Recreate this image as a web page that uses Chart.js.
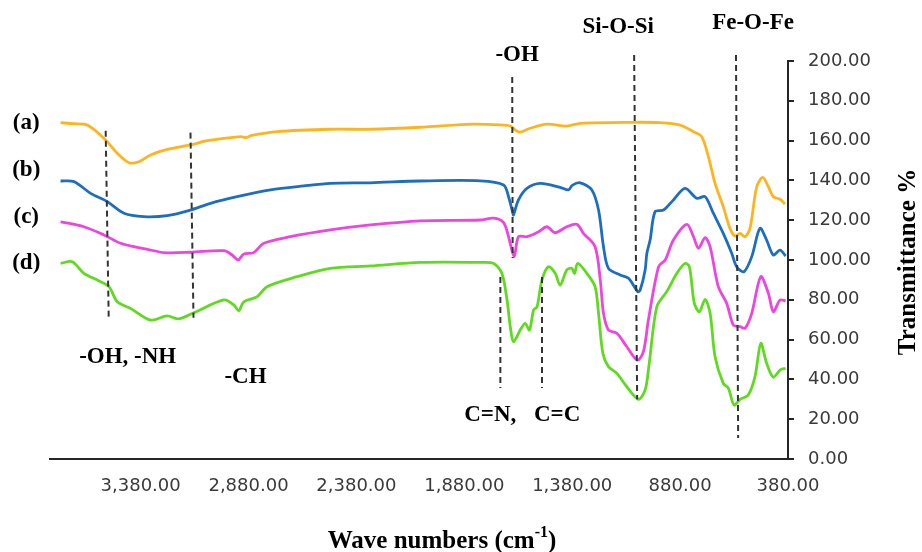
<!DOCTYPE html>
<html lang="en">
<head>
<meta charset="UTF-8">
<title>FTIR spectra</title>
<style>
  body { margin: 0; background: #fff; }
  #ftir { display: block; }
</style>
<script src="https://cdn.jsdelivr.net/npm/chart.js"></script>
</head>
<body>
<canvas id="ftir" width="922" height="552"></canvas>
<script>
// spectra: wave number (cm-1) and transmittance (%)
const aWave = [3751, 3690, 3627, 3542, 3488, 3434, 3388, 3334, 3257, 3149, 3071, 2917, 2890, 2870, 2747, 2500, 2315, 2084, 1838, 1700, 1667, 1640, 1621, 1575, 1497, 1405, 1343, 1098, 973, 880, 818, 780, 749, 718, 680, 649, 625, 602, 579, 556, 525, 497, 471, 448, 417, 394];
const aT    = [169.0, 168.5, 167.8, 160.3, 153.6, 148.9, 149.4, 152.8, 155.6, 157.8, 160.0, 162.0, 161.5, 162.5, 164.5, 165.7, 165.7, 166.7, 168.3, 167.8, 167.3, 165.0, 164.2, 166.2, 168.3, 167.3, 168.7, 169.2, 169.0, 167.8, 164.5, 162.0, 151.9, 138.5, 126.8, 115.9, 112.0, 113.4, 111.7, 115.9, 136.8, 141.5, 136.8, 131.8, 130.5, 128.1];

const bWave = [3751, 3689, 3612, 3534, 3457, 3365, 3257, 3149, 3056, 2933, 2778, 2624, 2501, 2315, 2084, 1806, 1698, 1675, 1655, 1652, 1629, 1590, 1528, 1436, 1397, 1380, 1343, 1289, 1258, 1235, 1212, 1158, 1119, 1076, 1065, 1042, 1034, 1019, 996, 957, 911, 857, 803, 764, 726, 680, 641, 618, 584, 548, 510, 479, 448, 417, 391];
const bT    = [139.7, 139.4, 133.5, 129.3, 123.5, 121.8, 122.3, 125.1, 128.5, 131.8, 135.2, 137.2, 138.5, 138.8, 139.7, 139.8, 137.7, 131.8, 123.5, 122.6, 130.2, 136.0, 138.5, 136.5, 135.2, 137.5, 138.8, 135.2, 125.1, 106.7, 95.8, 92.5, 90.8, 84.1, 84.9, 95.0, 103.4, 110.0, 124.3, 125.1, 130.2, 136.0, 131.0, 131.8, 123.5, 113.4, 103.4, 96.6, 94.1, 101.7, 115.9, 110.0, 102.5, 105.0, 102.0];

const cWave = [3751, 3643, 3550, 3473, 3411, 3349, 3272, 3149, 2994, 2956, 2928, 2902, 2856, 2809, 2686, 2501, 2315, 2084, 1806, 1744, 1698, 1675, 1649, 1629, 1590, 1536, 1497, 1459, 1405, 1358, 1328, 1274, 1250, 1235, 1212, 1173, 1127, 1078, 1050, 1027, 980, 949, 911, 849, 818, 795, 764, 741, 703, 664, 633, 602, 579, 548, 506, 471, 448, 417, 391];
const cT    = [119.2, 116.7, 112.6, 108.4, 106.7, 105.4, 103.7, 103.9, 104.7, 102.5, 100.0, 103.0, 103.7, 108.4, 111.7, 115.1, 117.6, 119.7, 120.1, 121.0, 118.8, 111.7, 101.7, 111.7, 111.7, 114.2, 116.7, 113.7, 116.7, 117.9, 113.4, 106.7, 90.0, 73.2, 64.8, 63.2, 56.4, 49.7, 53.9, 69.8, 96.6, 100.0, 110.0, 117.9, 111.7, 105.9, 111.2, 106.7, 86.6, 78.2, 67.3, 66.5, 65.7, 73.2, 91.6, 83.3, 74.0, 79.9, 79.4];

const dWave = [3751, 3697, 3643, 3581, 3527, 3488, 3427, 3334, 3257, 3203, 3133, 2994, 2948, 2925, 2902, 2840, 2794, 2655, 2501, 2315, 2084, 1806, 1744, 1706, 1682, 1667, 1652, 1621, 1598, 1578, 1559, 1543, 1520, 1490, 1459, 1436, 1405, 1382, 1369, 1355, 1312, 1274, 1258, 1238, 1212, 1173, 1127, 1073, 1042, 1025, 988, 942, 895, 857, 837, 814, 791, 764, 741, 718, 680, 656, 630, 602, 564, 533, 506, 479, 448, 417, 391];
const dT    = [98.3, 99.1, 93.3, 89.9, 86.6, 79.0, 75.7, 69.8, 71.9, 70.4, 73.5, 79.9, 77.4, 74.5, 79.0, 81.6, 86.6, 91.6, 95.8, 97.0, 98.8, 98.8, 98.3, 93.3, 79.9, 66.5, 58.9, 64.8, 68.2, 64.8, 74.9, 76.5, 90.0, 96.6, 93.3, 87.4, 95.0, 95.8, 93.3, 98.3, 93.3, 86.6, 73.2, 53.1, 46.4, 43.0, 36.3, 30.0, 34.7, 46.4, 76.5, 84.1, 93.3, 98.3, 96.6, 78.2, 74.0, 80.2, 73.2, 51.4, 38.0, 35.5, 27.1, 30.0, 32.2, 41.4, 58.1, 48.1, 41.1, 44.7, 45.6];

const seriesNames = ['(a)', '(b)', '(c)', '(d)'];
const seriesColors = ['#FFB41E', '#1C6FC0', '#EE44E2', '#5EDB1E'];
const xTickValues = [380, 880, 1380, 1880, 2380, 2880, 3380];

// band assignments: dashed guide lines (wave at top, wave at bottom, T top, T bottom)
const bandTopWave = [3542, 3149, 1658, 1093, 621, 1713, 1520];
const bandBotWave = [3528, 3135, 1656, 1079, 611, 1713, 1520];
const bandTopT    = [165, 164, 192, 203, 203, 91.5, 91.5];
const bandBotT    = [71, 71, 101, 30, 10.5, 35.7, 35.7];

const bandLabels = ['-OH', 'Si-O-Si', 'Fe-O-Fe', 'C=N,', 'C=C', '-OH, -NH', '-CH'];
const bandLabelWave = [1635, 1167, 542, 1760, 1450, 3440, 2894];
const bandLabelT = [203, 217, 219, 22, 22, 51, 41];

// series tags at the left, placed at each curve's start level
const tagWave = 3910;
const tagT = [169, 145, 121.6, 98.5];

function toPoints(w, t) {
  return w.map((x, i) => ({ x: x, y: t[i] }));
}

const spectra = [toPoints(aWave, aT), toPoints(bWave, bT), toPoints(cWave, cT), toPoints(dWave, dT)];

const annotate = {
  id: 'annotate',
  afterDatasetsDraw(chart) {
    const ctx = chart.ctx;
    const xs = chart.scales.x, ys = chart.scales.y;
    ctx.save();
    ctx.strokeStyle = '#333';
    ctx.lineWidth = 2;
    ctx.setLineDash([6, 4]);
    for (let i = 0; i < bandTopWave.length; i++) {
      ctx.beginPath();
      ctx.moveTo(xs.getPixelForValue(bandTopWave[i]), ys.getPixelForValue(bandTopT[i]));
      ctx.lineTo(xs.getPixelForValue(bandBotWave[i]), ys.getPixelForValue(bandBotT[i]));
      ctx.stroke();
    }
    ctx.restore();
  },
  afterDraw(chart) {
    const ctx = chart.ctx;
    const xs = chart.scales.x, ys = chart.scales.y;
    ctx.save();
    ctx.fillStyle = '#000';
    ctx.font = 'bold 23px "Liberation Serif", serif';
    ctx.textAlign = 'center';
    ctx.textBaseline = 'middle';
    bandLabels.forEach((txt, i) => {
      ctx.fillText(txt, xs.getPixelForValue(bandLabelWave[i]), ys.getPixelForValue(bandLabelT[i]));
    });
    seriesNames.forEach((txt, i) => {
      ctx.fillText(txt, xs.getPixelForValue(tagWave), ys.getPixelForValue(tagT[i]));
    });

    // x title with superscript
    ctx.font = 'bold 25px "Liberation Serif", serif';
    ctx.textAlign = 'left';
    ctx.textBaseline = 'alphabetic';
    const main = 'Wave numbers (cm';
    const sup = '-1';
    const supFont = 'bold 16px "Liberation Serif", serif';
    const wMain = ctx.measureText(main).width;
    ctx.font = supFont;
    const wSup = ctx.measureText(sup).width;
    ctx.font = 'bold 25px "Liberation Serif", serif';
    const wEnd = ctx.measureText(')').width;
    let x0 = 442 - (wMain + wSup + wEnd) / 2;
    const yb = 548;
    ctx.fillText(main, x0, yb);
    ctx.font = supFont;
    ctx.fillText(sup, x0 + wMain, yb - 11);
    ctx.font = 'bold 25px "Liberation Serif", serif';
    ctx.fillText(')', x0 + wMain + wSup, yb);

    // y title
    ctx.translate(909, 262);
    ctx.rotate(-Math.PI / 2);
    ctx.textAlign = 'center';
    ctx.textBaseline = 'middle';
    ctx.fillText('Transmittance %', 0, 0);
    ctx.restore();
  }
};

new Chart(document.getElementById('ftir').getContext('2d'), {
  type: 'line',
  data: {
    datasets: spectra.map((pts, i) => ({
      label: seriesNames[i],
      data: pts,
      borderColor: seriesColors[i],
      backgroundColor: seriesColors[i],
      borderWidth: 2.8,
      pointRadius: 0,
      tension: 0.3,
      fill: false
    }))
  },
  options: {
    responsive: false,
    animation: false,
    layout: { padding: { left: 50, top: 61, right: 0, bottom: 0 } },
    plugins: { legend: { display: false }, tooltip: { enabled: false } },
    scales: {
      x: {
        type: 'linear',
        reverse: true,
        min: 380,
        max: 3800,
        afterBuildTicks(scale) { scale.ticks = xTickValues.map(v => ({ value: v })); },
        afterFit(scale) { scale.height = 93; },
        grid: { display: false, drawTicks: false },
        border: { display: true, color: '#262626', width: 2 },
        ticks: {
          padding: 17,
          maxRotation: 0,
          autoSkip: false,
          color: '#3a3a3a',
          font: { family: 'DejaVu Sans', size: 18 },
          callback: v => v.toLocaleString('en-US', { minimumFractionDigits: 2, maximumFractionDigits: 2 })
        }
      },
      y: {
        position: 'right',
        min: 0,
        max: 200,
        afterFit(scale) { scale.width = 134; },
        grid: { drawOnChartArea: false, drawTicks: true, tickLength: 6, color: '#262626', lineWidth: 2 },
        border: { display: true, color: '#262626', width: 2 },
        ticks: {
          stepSize: 20,
          padding: 14,
          color: '#3a3a3a',
          font: { family: 'DejaVu Sans', size: 18 },
          callback: v => v.toFixed(2)
        }
      }
    }
  },
  plugins: [annotate]
});
</script>
</body>
</html>
